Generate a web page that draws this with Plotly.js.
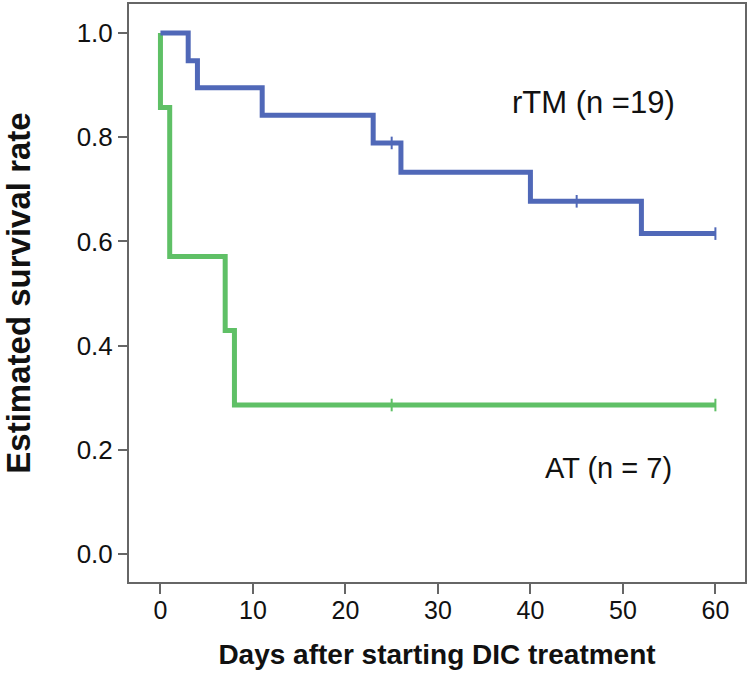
<!DOCTYPE html>
<html>
<head>
<meta charset="utf-8">
<script src="https://cdn.plot.ly/plotly-3.0.1.min.js"></script>
<style>html,body{margin:0;padding:0;background:#fff;}#chart{width:752px;height:690px;}</style>
</head>
<body>
<div id="chart"></div>
<script>
// Kaplan-Meier step data
const rtmDays = [0, 3, 4, 11, 23, 26, 40, 52, 60];
const rtmSurv = [1.0, 0.947, 0.895, 0.842, 0.789, 0.733, 0.677, 0.615, 0.615];
const rtmCensorDays = [25, 45, 60];
const rtmCensorSurv = [0.789, 0.677, 0.615];

const atDays = [0, 0, 1, 7, 8, 60];
const atSurv = [1.0, 0.857, 0.571, 0.429, 0.286, 0.286];
const atCensorDays = [25, 60];
const atCensorSurv = [0.286, 0.286];

const xTicks = [0, 10, 20, 30, 40, 50, 60];
const yTicks = [0.0, 0.2, 0.4, 0.6, 0.8, 1.0];
const yTickLabels = ['0.0', '0.2', '0.4', '0.6', '0.8', '1.0'];

const blue = '#5068b8';
const green = '#5fc066';
const FONT = 'Liberation Sans, Arial, sans-serif';

const traces = [
  {x: atDays, y: atSurv, mode: 'lines', line: {shape: 'hv', color: green, width: 5}, hoverinfo: 'skip'},
  {x: rtmDays, y: rtmSurv, mode: 'lines', line: {shape: 'hv', color: blue, width: 5}, hoverinfo: 'skip'},
  {x: atCensorDays, y: atCensorSurv, mode: 'markers', marker: {symbol: 'line-ns', size: 9, line: {color: green, width: 2}}},
  {x: rtmCensorDays, y: rtmCensorSurv, mode: 'markers', marker: {symbol: 'line-ns', size: 9, line: {color: blue, width: 2}}}
];

const layout = {
  width: 752, height: 690,
  margin: {l: 129, r: 7, t: 4, b: 108},
  paper_bgcolor: '#fff', plot_bgcolor: '#fff',
  showlegend: false,
  xaxis: {
    range: [-3.4, 63.2], tickvals: xTicks, ticktext: xTicks.map(String),
    showgrid: false, zeroline: false, showline: true, mirror: true,
    linecolor: '#666', linewidth: 2, ticks: 'outside', ticklen: 10, tickwidth: 2, tickcolor: '#666',
    tickfont: {family: FONT, size: 25, color: '#111'},
    ticklabelstandoff: -5,
    title: {text: '<b>Days after starting DIC treatment</b>', font: {family: FONT, size: 28, color: '#111'}, standoff: 21}
  },
  yaxis: {
    range: [-0.0537, 1.0557], tickvals: yTicks, ticktext: yTickLabels,
    showgrid: false, zeroline: false, showline: true, mirror: true,
    linecolor: '#666', linewidth: 2, ticks: 'outside', ticklen: 9, tickwidth: 2, tickcolor: '#666',
    tickfont: {family: FONT, size: 26, color: '#111'},
    title: {text: '<b>Estimated survival rate</b>', font: {family: FONT, size: 33, color: '#111'}, standoff: 41}
  },
  annotations: [
    {x: 46.8, y: 0.866, xref: 'x', yref: 'y', text: 'rTM (n =19)', showarrow: false,
     font: {family: FONT, size: 31, color: '#111'}},
    {x: 48.4, y: 0.165, xref: 'x', yref: 'y', text: 'AT (n = 7)', showarrow: false,
     font: {family: FONT, size: 29, color: '#111'}}
  ]
};

Plotly.newPlot('chart', traces, layout, {displayModeBar: false, staticPlot: true});
</script>
</body>
</html>
